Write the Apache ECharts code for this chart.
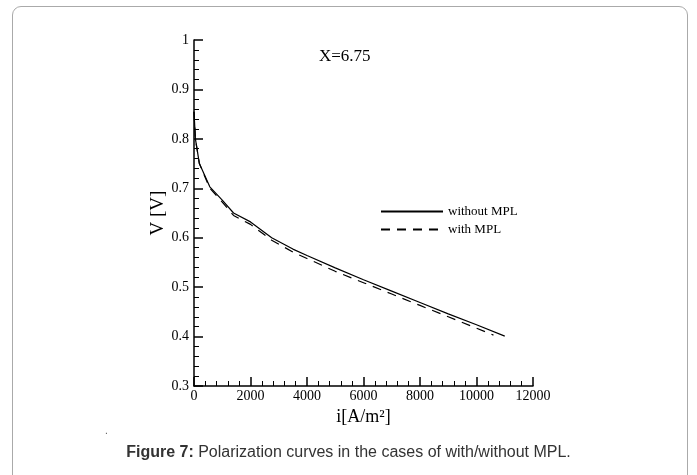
<!DOCTYPE html>
<html>
<head>
<meta charset="utf-8">
<script src="https://cdn.jsdelivr.net/npm/echarts@6/dist/echarts.min.js"></script>
<style>
  html, body { margin: 0; padding: 0; background: #fff; }
  #frame {
    position: absolute; left: 12px; top: 6px; width: 676px; height: 480px;
    border: 1px solid #aaa; border-radius: 9px; box-sizing: border-box;
  }
  #chart { position: absolute; left: 0; top: 0; width: 697px; height: 475px; }
</style>
</head>
<body>
<div id="frame"></div>
<div id="chart"></div>
<script>
// current density i [A/m2] and voltage V [V]
const iWithout = [0, 50, 190, 560, 1000, 1400, 2000, 2750, 3500, 4000, 5000, 6000, 7000, 8000, 9000, 10000, 11000];
const vWithout = [0.855, 0.80, 0.75, 0.703, 0.676, 0.650, 0.632, 0.600, 0.577, 0.564, 0.539, 0.515, 0.492, 0.469, 0.446, 0.424, 0.401];
const iWith = [0, 50, 190, 560, 1000, 1400, 2000, 2750, 3500, 4000, 5000, 6000, 7000, 8000, 9000, 10000, 10600];
const vWith = [0.855, 0.80, 0.75, 0.700, 0.672, 0.645, 0.627, 0.595, 0.571, 0.558, 0.532, 0.509, 0.486, 0.463, 0.440, 0.417, 0.403];
const seriesNames = ['without MPL', 'with MPL'];

const chart = echarts.init(document.getElementById('chart'));
const serif = 'Liberation Serif';

function pairs(xs, ys) {
  return xs.map((x, k) => [x, ys[k]]);
}

const option = {
  animation: false,
  grid: { left: 194, top: 40, right: 164, bottom: 89 },
  title: {
    text: 'X=6.75',
    left: 314, top: 43,
    textStyle: { fontFamily: serif, fontSize: 17, fontWeight: 'normal', color: '#000' }
  },
  legend: {
    data: seriesNames,
    orient: 'vertical',
    left: 375, top: 200,
    itemWidth: 62, itemHeight: 10, itemGap: 5,
    itemStyle: { opacity: 0 },
    textStyle: { fontFamily: serif, fontSize: 13, color: '#000' }
  },
  xAxis: {
    type: 'value', min: 0, max: 12000, interval: 2000,
    name: 'i[A/m²]', nameLocation: 'middle', nameGap: 19,
    nameTextStyle: { fontFamily: serif, fontSize: 18, color: '#000' },
    axisLine: { lineStyle: { color: '#000', width: 1.5 } },
    axisTick: { inside: true, length: 9, lineStyle: { color: '#000', width: 1.5 } },
    minorTick: { show: true, splitNumber: 5, length: 5, lineStyle: { color: '#000', width: 1 } },
    axisLabel: { fontFamily: serif, fontSize: 14, color: '#000', margin: 3, formatter: v => String(v) },
    splitLine: { show: false }
  },
  yAxis: {
    type: 'value', min: 0.3, max: 1, interval: 0.1,
    name: 'V [V]', nameLocation: 'middle', nameGap: 23, nameRotate: 90,
    nameTextStyle: { fontFamily: serif, fontSize: 19, color: '#000' },
    axisLine: { show: true, lineStyle: { color: '#000', width: 1.5 } },
    axisTick: { inside: true, length: 9, lineStyle: { color: '#000', width: 1.5 } },
    minorTick: { show: true, splitNumber: 5, length: 5, lineStyle: { color: '#000', width: 1 } },
    axisLabel: {
      fontFamily: serif, fontSize: 14, color: '#000', margin: 5,
      formatter: v => String(Math.round(v * 10) / 10)
    },
    splitLine: { show: false }
  },
  series: [
    {
      name: seriesNames[0], type: 'line', symbol: 'none',
      data: pairs(iWithout, vWithout),
      lineStyle: { color: '#000', width: 1.2, type: 'solid' },
      itemStyle: { color: '#000' }
    },
    {
      name: seriesNames[1], type: 'line', symbol: 'none',
      data: pairs(iWith, vWith),
      lineStyle: { color: '#000', width: 1.2, type: [9, 7] },
      itemStyle: { color: '#000' }
    }
  ],
  graphic: [
    {
      type: 'text', left: 'center', top: 445,
      style: {
        text: '{b|Figure 7:} Polarization curves in the cases of with/without MPL.',
        fontFamily: 'Liberation Sans', fontSize: 16, fill: '#333',
        rich: { b: { fontWeight: 'bold', fontFamily: 'Liberation Sans', fontSize: 16, fill: '#333' } }
      }
    },
    { type: 'text', left: 105, top: 426, style: { text: '.', fontSize: 10, fill: '#555' } }
  ]
};
chart.setOption(option);
</script>
</body>
</html>
